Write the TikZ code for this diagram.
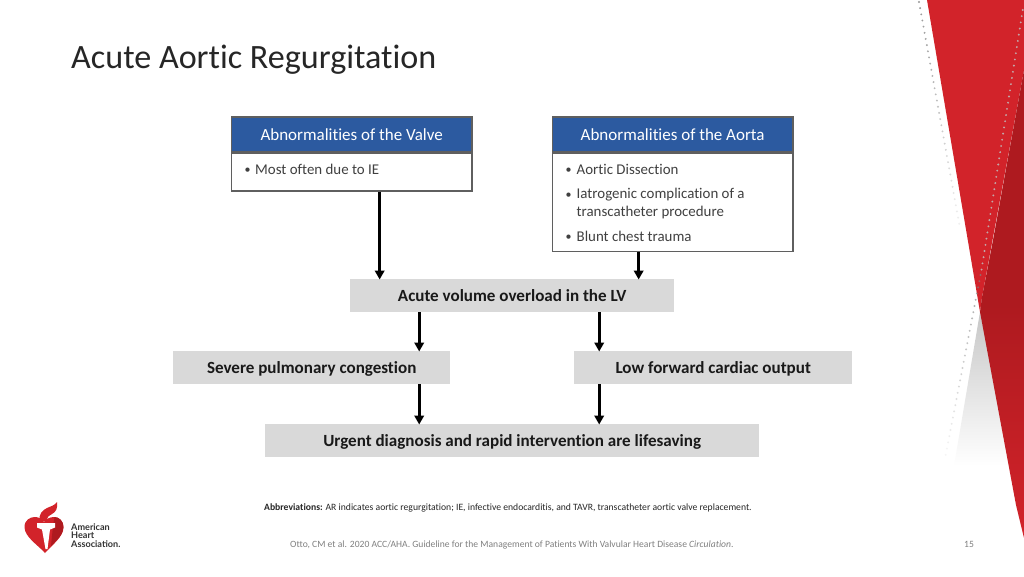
\documentclass[tikz,border=0pt]{standalone}
\usepackage{fontspec}
\setmainfont{Carlito}[Ligatures=CommonOff]
\newfontfamily\logofont{Lato}
\usetikzlibrary{arrows.meta,calc,shadings}
\definecolor{hdrblue}{HTML}{2C5AA0}
\definecolor{edgegray}{HTML}{5F5F5F}
\definecolor{boxgray}{HTML}{D9D9D9}
\definecolor{bodytxt}{HTML}{404040}
\definecolor{ahared}{HTML}{D2232A}
\definecolor{ahadark}{HTML}{AE1A1F}
\tikzset{
  header/.style={draw=edgegray,line width=1.6pt,fill=hdrblue,text=white,minimum width=240.5pt,minimum height=35pt,inner sep=0pt,font=\fontsize{17}{20}\selectfont,anchor=north west},
  bodybox/.style={draw=edgegray,line width=1.6pt,fill=white,minimum width=240.5pt,inner sep=0pt,anchor=north west},
  flowbox/.style={fill=boxgray,text=black!90,inner sep=0pt,minimum height=33pt,text height=13pt,text depth=1pt,font=\fontsize{17.05}{20}\selectfont\bfseries,anchor=north west},
  flowarrow/.style={line width=2.6pt,black,-{Triangle[width=9.5pt,length=9pt]},shorten >=-0.5pt},
  bullettxt/.style={text=bodytxt,font=\fontsize{14.9}{17}\selectfont,anchor=base west,inner sep=0pt},
  bulletdot/.style={text=bodytxt,font=\fontsize{12}{14}\selectfont,anchor=base west,inner sep=0pt},
  logotext/.style={anchor=base west,inner sep=0pt,text=black!80,font=\fontsize{9.1}{10}\logofont\bfseries}
}
\begin{document}
\begin{tikzpicture}[x=1pt,y=-1pt]
\useasboundingbox (0,0) rectangle (1024,576);
\fill[white] (0,0) rectangle (1024,576);
% decoration
\shade[top color=black!22,bottom color=white,shading angle=0] (980,312) -- (954,466) -- (1012,466) -- cycle;
\fill[ahared] (927,0) -- (1024,0) -- (1024,70) -- (982,297) -- (980,312) -- cycle;
\shade[top color=ahadark,bottom color=ahared,middle color=ahadark] (1024,70) -- (993,240) -- (982,297) -- (980,312) -- (1016,505) -- (1024,538) -- cycle;
\foreach \i in {0,...,36}{
  \pgfmathsetmacro\op{max(0.08,0.75-\i*0.018)}
  \fill[black!55,opacity=\op] ({919+\i*1.117},{2+\i*6.16}) circle (1.05);
}
\foreach \i in {0,...,42}{
  \fill[white!75!black,opacity=0.85] ({1022.7-\i*0.98},{10+\i*6.18}) circle (1.05);
}
\foreach \i in {0,...,29}{
  \pgfmathsetmacro\op{max(0.08,0.7-\i*0.022)}
  \fill[black!50,opacity=\op] ({980.5-\i*1.2},{275+\i*6.2}) circle (1.05);
}
% title
\node[anchor=base west,inner sep=0pt,text=black!85,font=\fontsize{34.1}{40}\selectfont] (title) at (71,68) {Acute Aortic Regurgitation};
% top boxes
\node[bodybox,minimum height=38pt] (valvebody) at (230.6,152) {};
\node[header] (valvehead) at (230.6,116) {Abnormalities of the Valve};
\node[bodybox,minimum height=98.5pt] (aortabody) at (551.6,152) {};
\node[header] (aortahead) at (551.6,116) {Abnormalities of the Aorta};
\node[bulletdot] (vd1) at (244.5,173.5) {•};
\node[bullettxt] (vt1) at (255,174) {Most often due to IE};
\node[bulletdot] (ad1) at (565.5,173.5) {•};
\node[bullettxt] (at1) at (576.5,174) {Aortic Dissection};
\node[bulletdot] (ad2) at (565.5,198) {•};
\node[bullettxt] (at2) at (576.5,198.5) {Iatrogenic complication of a};
\node[bullettxt] (at3) at (576.5,216.5) {transcatheter procedure};
\node[bulletdot] (ad4) at (565.5,240.5) {•};
\node[bullettxt] (at4) at (576.5,241) {Blunt chest trauma};
% flow boxes
\node[flowbox,minimum width=324pt] (overload) at (350,279) {Acute volume overload in the LV};
\node[flowbox,minimum width=277pt] (pulm) at (173,351) {Severe pulmonary congestion};
\node[flowbox,minimum width=278pt] (lowco) at (574,351) {Low forward cardiac output};
\node[flowbox,minimum width=494pt] (urgent) at (265,424) {Urgent diagnosis and rapid intervention are lifesaving};
% connectors
\draw[flowarrow] ([xshift=28pt]valvebody.south) -- ([xshift=28pt]valvebody.south |- overload.north);
\draw[flowarrow] ([xshift=-34pt]aortabody.south) -- ([xshift=-34pt]aortabody.south |- overload.north);
\draw[flowarrow] ([xshift=-93pt]overload.south) -- ([xshift=-93pt]overload.south |- pulm.north);
\draw[flowarrow] ([xshift=87pt]overload.south) -- ([xshift=87pt]overload.south |- lowco.north);
\draw[flowarrow] ([xshift=107.5pt]pulm.south) -- ([xshift=107.5pt]pulm.south |- urgent.north);
\draw[flowarrow] ([xshift=-114pt]lowco.south) -- ([xshift=-114pt]lowco.south |- urgent.north);
% abbreviations and footer
\node[anchor=base west,inner sep=0pt,text=black!85,font=\fontsize{9.65}{11}\selectfont] (abbr) at (264,510) {\textbf{Abbreviations:} AR indicates aortic regurgitation; IE, infective endocarditis, and TAVR, transcatheter aortic valve replacement.};
\node[anchor=base west,inner sep=0pt,text=black!50,font=\fontsize{9.6}{11}\selectfont] (cite) at (290,547) {Otto, CM et al. 2020 ACC/AHA. Guideline for the Management of Patients With Valvular Heart Disease \textit{Circulation}.};
\node[anchor=base,inner sep=0pt,text=black!50,font=\fontsize{9.6}{11}\selectfont] (pageno) at (969,547) {15};
% logo
\fill[ahared] (45,553) .. controls (38,545) and (24.5,537) .. (24.5,527) .. controls (24.5,520) and (30,517) .. (35,517) .. controls (39,517) and (42,519) .. (44,522) .. controls (46,519) and (50,517) .. (54,517) .. controls (59,517) and (63.5,521) .. (63.5,527) .. controls (63.5,537) and (52,545) .. (45,553) -- cycle;
\fill[ahadark] (53,526) -- (54.5,517) .. controls (59,517) and (63.5,521) .. (63.5,527) .. controls (63.5,534) and (57,540) .. (51,546) -- cycle;
\fill[ahared] (40,521) .. controls (38,514) and (43,510) .. (47,508) .. controls (51,506) and (54,506) .. (57,502) .. controls (58,508) and (56,512) .. (52,514) .. controls (49,515) and (47,517) .. (47,521) -- cycle;
\fill[white] (37,523) -- (55,523) -- (55,527.5) -- (50,529.5) -- (47.5,549) -- (45.5,549) -- (42,529.5) -- (37,527.5) -- cycle;
\node[logotext] (logo1) at (71,530) {American};
\node[logotext] (logo2) at (71,538.5) {Heart};
\node[logotext] (logo3) at (71,547) {Association.};
\end{tikzpicture}
\end{document}
